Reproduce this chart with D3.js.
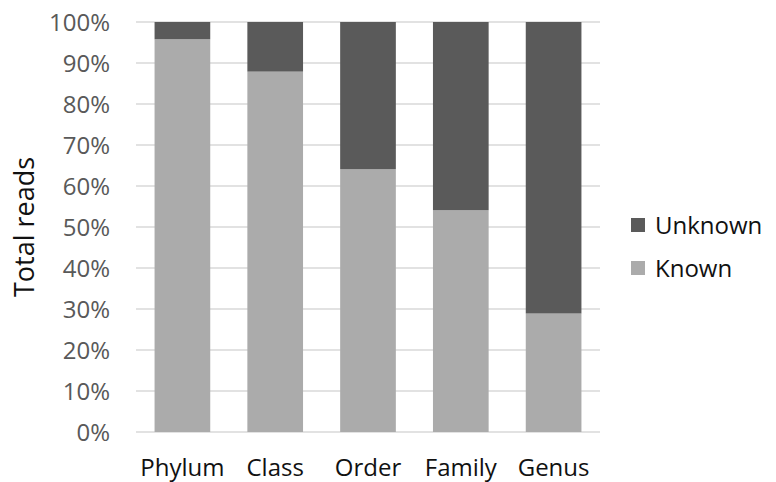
<!DOCTYPE html>
<html><head><meta charset="utf-8">
<script src="https://cdn.jsdelivr.net/npm/d3@7"></script>
<style>body{margin:0;background:#fff}</style>
</head><body>
<svg id="c" width="776" height="482"></svg>
<script>
const categories = ["Phylum","Class","Order","Family","Genus"];
const known = [95.8, 87.9, 64.1, 54.1, 28.9];
const unknown = [4.2, 12.1, 35.9, 45.9, 71.1];
const seriesNames = ["Known","Unknown"];
const yTicks = [0,10,20,30,40,50,60,70,80,90,100];

const svg = d3.select("#c");
const font = "'Open Sans', 'Noto Sans', sans-serif";
const m = {left:136, right:600, top:22, bottom:432};
const x = d3.scaleBand().domain(categories).range([m.left, m.right]).paddingInner(0.4).paddingOuter(0.2);
const y = d3.scaleLinear().domain([0,100]).range([m.bottom, m.top]);
const colors = {Known:"#ababab", Unknown:"#5a5a5a"};

// grid
svg.append("g").selectAll("line").data(yTicks).join("line")
  .attr("x1", m.left).attr("x2", m.right)
  .attr("y1", d=>y(d)).attr("y2", d=>y(d))
  .attr("stroke", "#d9d9d9").attr("stroke-width", 1.3);

// y tick labels
svg.append("g").selectAll("text").data(yTicks).join("text")
  .attr("x", 110).attr("y", d=>y(d)).attr("dy","0.36em")
  .attr("text-anchor","end").attr("font-family",font).attr("font-size",24)
  .attr("fill","#595959").text(d=>d+"%");

const table = categories.map((c,i)=>({cat:c, Known:known[i], Unknown:unknown[i]}));
const stacked = d3.stack().keys(seriesNames)(table);
svg.append("g").selectAll("g").data(stacked).join("g")
  .attr("fill", d=>colors[d.key])
  .selectAll("rect").data(d=>d).join("rect")
  .attr("x", d=>x(d.data.cat)).attr("width", x.bandwidth())
  .attr("y", d=>y(Math.min(100,d[1]))).attr("height", d=>y(d[0])-y(Math.min(100,d[1])));

// x labels
svg.append("g").selectAll("text").data(categories).join("text")
  .attr("x", d=>x(d)+x.bandwidth()/2).attr("y", 476)
  .attr("text-anchor","middle").attr("font-family",font).attr("font-size",24)
  .attr("fill","#111").text(d=>d);

// axis title
svg.append("text").attr("transform","translate(34,227) rotate(-90)")
  .attr("text-anchor","middle").attr("font-family",font).attr("font-size",27)
  .attr("fill","#111").text("Total reads");

// legend
const leg = ["Unknown","Known"];
const lg = svg.append("g").selectAll("g").data(leg).join("g")
  .attr("transform",(d,i)=>`translate(631,${218+i*43})`);
lg.append("rect").attr("width",14).attr("height",14).attr("fill",d=>colors[d]);
lg.append("text").attr("x",24).attr("y",7).attr("dy","0.36em")
  .attr("font-family",font).attr("font-size",24).attr("fill","#111").text(d=>d);
</script>
</body></html>
